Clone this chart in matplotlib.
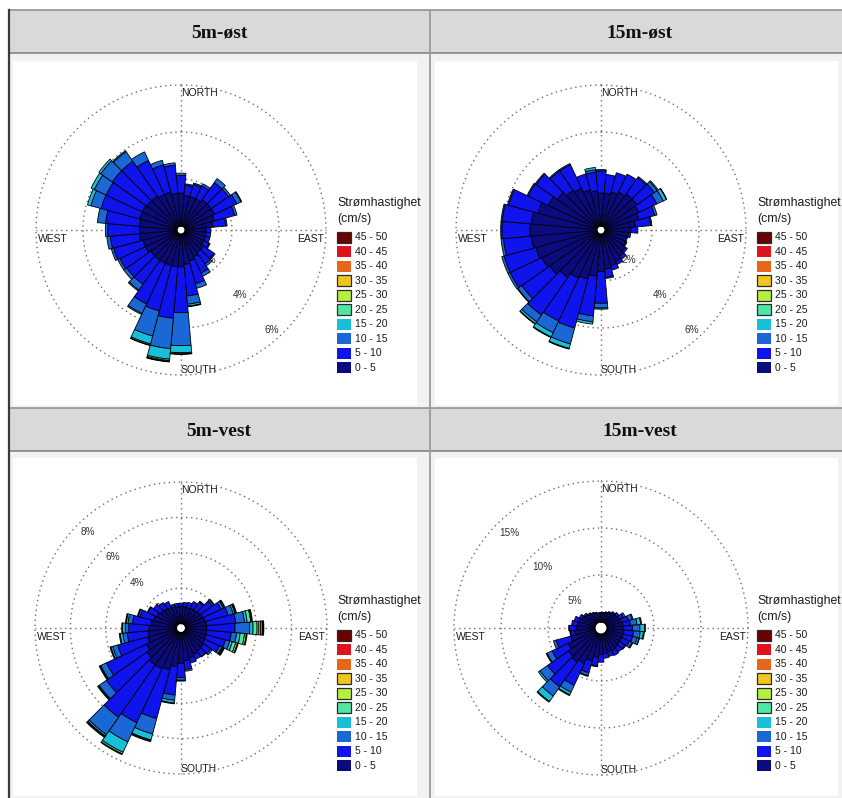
import numpy as np
import matplotlib
matplotlib.use('Agg')
import matplotlib.pyplot as plt
from matplotlib.patches import Rectangle

W, H = 842, 798

# ---------------- data ----------------
directions = [0, 10, 20, 30, 40, 50, 60, 70, 80, 90, 100, 110,
              120, 130, 140, 150, 160, 170, 180, 190, 200, 210, 220, 230,
              240, 250, 260, 270, 280, 290, 300, 310, 320, 330, 340, 350]

speed_bins = ['0 - 5', '5 - 10', '10 - 15', '15 - 20', '20 - 25',
              '25 - 30', '30 - 35', '35 - 40', '40 - 45', '45 - 50']
bin_colors = ['#0b0b80', '#0f14ec', '#1a68d6', '#17bfd8', '#4fe6a6',
              '#b6f03e', '#f0c51e', '#e6661a', '#e0121c', '#6a0000']

titles = ['5m-øst', '15m-øst', '5m-vest', '15m-vest']

# 5m-øst (percent per speed bin, per 10-degree sector)
oest5_b0 = [1.4, 1.3, 1.3, 1.3, 1.4, 1.4, 1.4, 1.3, 1.2, 0.9, 0.9, 0.9,
            0.9, 1.0, 1.0, 1.1, 1.2, 1.3, 1.4, 1.4, 1.4, 1.4, 1.4, 1.4,
            1.5, 1.5, 1.6, 1.6, 1.6, 1.65, 1.65, 1.6, 1.6, 1.5, 1.5, 1.4]
oest5_b1 = [0.75, 0.45, 0.55, 0.6, 0.9, 0.9, 1.05, 0.9, 0.55, 0.2, 0.2, 0.2,
            0.25, 0.55, 0.6, 0.75, 1.0, 1.35, 1.95, 2.2, 2.0, 1.9, 1.25, 1.25,
            1.2, 1.3, 1.25, 1.35, 1.45, 1.7, 1.7, 1.8, 1.8, 1.6, 1.2, 1.2]
oest5_b2 = [0.1, 0.05, 0.05, 0.1, 0.2, 0.1, 0.2, 0.1, 0.05, 0, 0, 0,
            0.05, 0.05, 0.1, 0.15, 0.2, 0.35, 1.4, 1.3, 1.1, 0.45, 0.3, 0.15,
            0.1, 0.1, 0.15, 0.1, 0.35, 0.45, 0.55, 0.6, 0.5, 0.4, 0.2, 0.1]
oest5_b3 = [0, 0, 0, 0, 0, 0, 0.03, 0, 0, 0, 0, 0,
            0, 0, 0, 0, 0, 0.08, 0.3, 0.45, 0.35, 0.05, 0.05, 0,
            0, 0, 0, 0, 0, 0.15, 0.15, 0.1, 0.05, 0, 0, 0]
oest5_b4 = [0, 0, 0, 0, 0, 0, 0, 0, 0, 0, 0, 0,
            0, 0, 0, 0, 0, 0.03, 0.05, 0.06, 0.05, 0, 0, 0,
            0, 0, 0, 0, 0, 0, 0, 0, 0, 0, 0, 0]
oest5_b5 = [0, 0, 0, 0, 0, 0, 0, 0, 0, 0, 0, 0,
            0, 0, 0, 0, 0, 0, 0.02, 0.04, 0.02, 0, 0, 0,
            0, 0, 0, 0, 0, 0, 0, 0, 0, 0, 0, 0]
oest5_b6 = [0, 0, 0, 0, 0, 0, 0, 0, 0, 0, 0, 0,
            0, 0, 0, 0, 0, 0, 0, 0.02, 0, 0, 0, 0,
            0, 0, 0, 0, 0, 0, 0, 0, 0, 0, 0, 0]

# 15m-øst
oest15_b0 = [1.4, 1.4, 1.5, 1.6, 1.7, 1.7, 1.6, 1.5, 1.3, 1.1, 1.0, 0.95,
             1.0, 1.1, 1.2, 1.3, 1.4, 1.5, 1.6, 1.8, 2.0, 2.1, 2.3, 2.5,
             2.6, 2.7, 2.8, 2.85, 2.8, 2.6, 2.3, 2.1, 1.9, 1.8, 1.6, 1.5]
oest15_b1 = [0.95, 0.8, 0.85, 0.85, 0.85, 0.9, 0.85, 0.7, 0.65, 0.3, 0.1, 0.05,
             0.05, 0.1, 0.15, 0.15, 0.2, 0.35, 1.35, 1.7, 2.15, 2.0, 1.95, 1.45,
             1.5, 1.4, 1.2, 1.2, 1.25, 1.3, 0.95, 1.1, 1.0, 1.1, 0.7, 0.8]
oest15_b2 = [0.05, 0, 0, 0, 0.05, 0.15, 0.3, 0.1, 0.05, 0, 0, 0,
             0, 0, 0, 0, 0, 0.05, 0.2, 0.25, 0.7, 0.55, 0.35, 0.2,
             0.1, 0.1, 0.1, 0.05, 0.05, 0.05, 0.05, 0.05, 0.05, 0.05, 0, 0.1]
oest15_b3 = [0, 0, 0, 0, 0, 0.05, 0.15, 0, 0, 0, 0, 0,
             0, 0, 0, 0, 0, 0, 0.05, 0.1, 0.2, 0.2, 0.1, 0,
             0, 0, 0, 0, 0, 0, 0, 0, 0, 0, 0, 0.1]
oest15_b4 = [0, 0, 0, 0, 0, 0, 0.02, 0, 0, 0, 0, 0,
             0, 0, 0, 0, 0, 0, 0, 0, 0.03, 0.03, 0.02, 0.03,
             0, 0, 0, 0, 0, 0, 0, 0, 0, 0, 0, 0]

# 5m-vest
vest5_b0 = [0.95, 0.95, 0.95, 1.0, 1.0, 1.05, 1.1, 1.15, 1.2, 1.2, 1.2, 1.2,
            1.25, 1.3, 1.35, 1.4, 1.5, 1.6, 1.75, 1.95, 2.2, 2.3, 2.3, 2.1,
            1.9, 1.7, 1.6, 1.55, 1.45, 1.35, 1.25, 1.15, 1.1, 1.05, 1.0, 0.95]
vest5_b1 = [0.2, 0.25, 0.3, 0.4, 0.55, 0.85, 1.15, 1.35, 1.65, 1.6, 1.4, 1.15,
            0.9, 0.5, 0.35, 0.3, 0.3, 0.5, 0.8, 1.6, 2.85, 3.35, 3.6, 2.8,
            2.5, 1.75, 1.2, 1.15, 1.05, 0.8, 0.55, 0.5, 0.4, 0.35, 0.15, 0.2]
vest5_b2 = [0, 0, 0, 0, 0.05, 0.1, 0.15, 0.3, 0.5, 0.83, 0.3, 0.25,
            0.15, 0.1, 0.05, 0, 0, 0.1, 0.15, 0.3, 0.9, 1.2, 1.2, 0.5,
            0.35, 0.3, 0.25, 0.2, 0.25, 0.1, 0.05, 0, 0, 0, 0, 0]
vest5_b3 = [0, 0, 0, 0, 0, 0.05, 0.05, 0.1, 0.15, 0.19, 0.2, 0.15,
            0.05, 0, 0, 0, 0, 0, 0.05, 0.15, 0.35, 0.65, 0.1, 0.05,
            0.05, 0.1, 0.15, 0.15, 0.1, 0.05, 0, 0, 0, 0, 0, 0]
vest5_b4 = [0, 0, 0, 0, 0, 0, 0.05, 0.05, 0.2, 0.23, 0.25, 0.2,
            0.05, 0, 0, 0, 0, 0, 0, 0.05, 0.05, 0.1, 0.05, 0.05,
            0.05, 0.05, 0.05, 0.05, 0.05, 0, 0, 0, 0, 0, 0, 0]
vest5_b5 = [0, 0, 0, 0, 0, 0, 0, 0, 0.05, 0.1, 0.1, 0.1,
            0.05, 0, 0, 0, 0, 0, 0, 0, 0.05, 0.05, 0.05, 0,
            0, 0, 0, 0, 0, 0, 0, 0, 0, 0, 0, 0]
vest5_b6 = [0, 0, 0, 0, 0, 0, 0, 0.05, 0.05, 0.1, 0.05, 0.05,
            0, 0, 0, 0, 0, 0, 0, 0, 0, 0, 0, 0,
            0, 0, 0, 0, 0, 0, 0, 0, 0, 0, 0, 0]
vest5_b7 = [0, 0, 0, 0, 0, 0, 0, 0, 0, 0.1, 0, 0,
            0, 0, 0, 0, 0, 0, 0, 0, 0, 0, 0, 0,
            0, 0, 0, 0, 0, 0, 0, 0, 0, 0, 0, 0]
vest5_b8 = [0, 0, 0, 0, 0, 0, 0, 0, 0, 0.03, 0, 0,
            0, 0, 0, 0, 0, 0, 0, 0, 0, 0, 0, 0,
            0, 0, 0, 0, 0, 0, 0, 0, 0, 0, 0, 0]
vest5_b9 = [0, 0, 0, 0, 0, 0, 0, 0, 0, 0.05, 0, 0,
            0, 0, 0, 0, 0, 0, 0, 0, 0, 0, 0, 0,
            0, 0, 0, 0, 0, 0, 0, 0, 0, 0, 0, 0]

# 15m-vest
vest15_b0 = [0.95, 1.0, 1.1, 1.2, 1.3, 1.4, 1.5, 1.6, 1.7, 1.7, 1.8, 1.8,
             1.8, 1.8, 1.9, 2.0, 2.0, 2.1, 2.2, 2.5, 3.0, 3.5, 3.8, 3.6,
             3.2, 2.7, 2.2, 2.0, 1.9, 1.8, 1.6, 1.4, 1.25, 1.15, 1.05, 1.0]
vest15_b1 = [0.05, 0.05, 0.05, 0.1, 0.2, 0.3, 0.5, 0.8, 0.8, 1.0, 1.05, 1.05,
             0.9, 0.7, 0.6, 0.6, 0.5, 0.5, 0.8, 0.9, 1.3, 2.6, 3.2, 2.7,
             1.9, 1.6, 0.4, 0.7, 0.6, 0.5, 0.3, 0.2, 0.1, 0.05, 0.05, 0.0]
vest15_b2 = [0, 0, 0, 0, 0, 0, 0.2, 0.4, 0.7, 0.8, 0.7, 0.5,
             0.3, 0.1, 0, 0, 0, 0, 0, 0.1, 0.3, 0.8, 1.2, 1.0,
             0.6, 0.3, 0.1, 0.1, 0, 0, 0, 0, 0, 0, 0, 0]
vest15_b3 = [0, 0, 0, 0, 0, 0, 0, 0.1, 0.4, 0.5, 0.35, 0.2,
             0.1, 0, 0, 0, 0, 0, 0, 0, 0.1, 0.3, 0.7, 0.2,
             0.1, 0, 0, 0, 0, 0, 0, 0, 0, 0, 0, 0]
vest15_b4 = [0, 0, 0, 0, 0, 0, 0, 0, 0.1, 0.1, 0.1, 0.05,
             0, 0, 0, 0, 0, 0, 0, 0, 0, 0.1, 0.1, 0,
             0, 0, 0, 0, 0, 0, 0, 0, 0, 0, 0, 0]

panel_data = [
    [oest5_b0, oest5_b1, oest5_b2, oest5_b3, oest5_b4, oest5_b5, oest5_b6],
    [oest15_b0, oest15_b1, oest15_b2, oest15_b3, oest15_b4],
    [vest5_b0, vest5_b1, vest5_b2, vest5_b3, vest5_b4, vest5_b5, vest5_b6,
     vest5_b7, vest5_b8, vest5_b9],
    [vest15_b0, vest15_b1, vest15_b2, vest15_b3, vest15_b4],
]
panel_rings = [[2, 4, 6], [2, 4, 6], [2, 4, 6, 8], [5, 10, 15]]

# ---------------- layout (pixels) ----------------
# center x, center y, outer radius, hole radius, label angle, label offset
panel_geom = [
    (181, 230, 145, 4.0, 138, 10),
    (601, 230, 145, 4.0, 138, 10),
    (181, 628, 146, 4.5, 316, 12),
    (601, 628, 147, 6.0, 316, 15),
]
header_centers = [(219, 33), (640, 33), (219, 431), (640, 431)]

fig = plt.figure(figsize=(W / 100, H / 100), dpi=100)
bg = fig.add_axes([0, 0, 1, 1])
bg.set_xlim(0, W)
bg.set_ylim(H, 0)
bg.axis('off')

# cell backgrounds
for (x0, x1, wx0, wx1) in [(10, 429, 13, 417), (431, 842, 435, 838)]:
    for (y0, y1, wy0, wy1) in [(54, 407, 61, 405), (452, 798, 458, 796)]:
        bg.add_patch(Rectangle((x0, y0), x1 - x0, y1 - y0, fc='#f2f2f2', ec='none', zorder=0))
        bg.add_patch(Rectangle((wx0, wy0), wx1 - wx0, wy1 - wy0, fc='white', ec='none', zorder=0.1))

# header bars
for (y0, y1) in [(10, 53), (408, 451)]:
    bg.add_patch(Rectangle((9, y0), W - 9, y1 - y0, fc='#d9d9d9', ec='none', zorder=0.2))
    bg.plot([9, W], [y0, y0], color='#8a8a8a', lw=1.1, zorder=0.3)
    bg.plot([9, W], [y1, y1], color='#7a7a7a', lw=1.1, zorder=0.3)
bg.plot([8.5, 8.5], [10, H], color='#3a3a3a', lw=1.6, zorder=0.4)
bg.plot([430, 430], [10, H], color='#9a9a9a', lw=1.3, zorder=0.4)

for (hx, hy), t in zip(header_centers, titles):
    bg.text(hx, hy, t, ha='center', va='center', fontsize=14, fontweight='bold',
            family='Liberation Serif', color='#111111', zorder=1)

sans = 'Liberation Sans'
theta = np.deg2rad(np.array(directions, dtype=float))
width = np.deg2rad(10.0)
grid_kw = dict(color='#6e6e6e', lw=1.0, ls=(0, (1, 2.6)), zorder=1, clip_on=False)

for p in range(4):
    cx, cy, R, hole, lab_ang, lab_off = panel_geom[p]
    rings = panel_rings[p]
    rmax = rings[-1]
    k = (R - hole) / rmax          # pixels per percent
    h = hole / k

    ax = fig.add_axes([(cx - R) / W, 1 - (cy + R) / H, 2 * R / W, 2 * R / H],
                      projection='polar')
    ax.set_theta_zero_location('N')
    ax.set_theta_direction(-1)
    ax.set_ylim(0, rmax)
    ax.set_rorigin(-h)
    ax.set_facecolor('none')
    ax.grid(False)
    ax.set_xticks([])
    ax.set_yticks([])
    ax.spines['polar'].set_visible(False)

    tt = np.linspace(0, 2 * np.pi, 721)
    for rv in rings:
        ax.plot(tt, np.full_like(tt, rv), **grid_kw)
    for a in [0, 90, 180, 270]:
        ax.plot([np.deg2rad(a)] * 2, [0, rmax], **grid_kw)
    for rv in rings:
        ax.text(np.deg2rad(lab_ang), rv - lab_off / k, f'{rv}%', ha='center',
                va='center', fontsize=7.2, family=sans, color='#333333', zorder=1.5)

    bottom = np.zeros(len(directions))
    for b, vals in enumerate(panel_data[p]):
        v = np.array(vals, dtype=float)
        m = v > 0
        ax.bar(theta[m], v[m], width=width, bottom=bottom[m], color=bin_colors[b],
               edgecolor='black', linewidth=0.6, zorder=2)
        bottom = bottom + v

    # compass labels
    fs = 7.5
    bg.text(cx, cy - R + 3, 'NORTH', ha='left', va='top', fontsize=fs, family=sans,
            color='#1a1a1a', zorder=1)
    bg.text(cx, cy + R, 'SOUTH', ha='left', va='bottom', fontsize=fs, family=sans,
            color='#1a1a1a', zorder=1)
    bg.text(cx - R + 2, cy + 4, 'WEST', ha='left', va='top', fontsize=fs, family=sans,
            color='#1a1a1a', zorder=1)
    bg.text(cx + R - 2, cy + 4, 'EAST', ha='right', va='top', fontsize=fs, family=sans,
            color='#1a1a1a', zorder=1)

    # legend
    lx = cx + 156
    bg.text(lx, cy - 27, 'Strømhastighet', ha='left', va='center', fontsize=8.8,
            family=sans, color='#1a1a1a', zorder=1)
    bg.text(lx, cy - 11, '(cm/s)', ha='left', va='center', fontsize=8.8,
            family=sans, color='#1a1a1a', zorder=1)
    for i in range(10):
        b = 9 - i
        yc = cy + 7 + i * 14.55
        edged = b in (4, 5, 6, 9)
        bg.add_patch(Rectangle((lx, yc - 5.5), 14, 11, fc=bin_colors[b],
                               ec='#2a2a2a' if edged else 'none',
                               lw=0.9 if edged else 0, zorder=1))
        bg.text(lx + 18, yc, speed_bins[b], ha='left', va='center', fontsize=7.5,
                family=sans, color='#1a1a1a', zorder=1)

fig.savefig('out.png', dpi=100)
